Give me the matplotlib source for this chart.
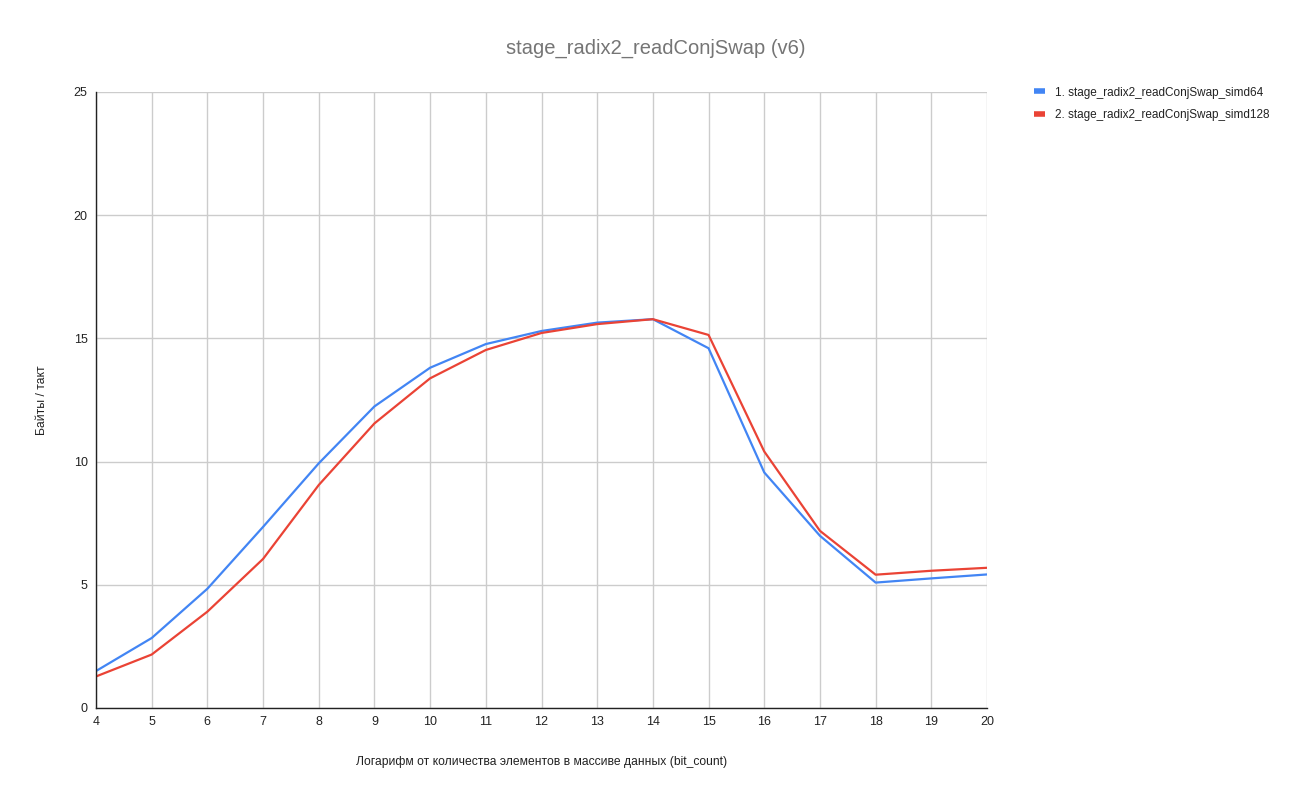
import matplotlib
matplotlib.use('agg')
import matplotlib.pyplot as plt
from matplotlib.lines import Line2D

plt.rcParams['font.family'] = ['Liberation Sans', 'DejaVu Sans']

bit_count = [4, 5, 6, 7, 8, 9, 10, 11, 12, 13, 14, 15, 16, 17, 18, 19, 20]
simd64 = [1.50, 2.84, 4.84, 7.35, 9.93, 12.24, 13.81, 14.77, 15.30, 15.64, 15.78,
          14.60, 9.56, 6.99, 5.09, 5.26, 5.42]
simd128 = [1.28, 2.17, 3.91, 6.05, 9.05, 11.55, 13.38, 14.53, 15.22, 15.58, 15.78,
           15.14, 10.41, 7.19, 5.41, 5.57, 5.69]
names = ['1. stage_radix2_readConjSwap_simd64', '2. stage_radix2_readConjSwap_simd128']
colors = ['#4285F4', '#EA4335']

fig = plt.figure(figsize=(13, 7.95), dpi=100)
ax = fig.add_axes([96 / 1300, 87 / 795, 891 / 1300, 616 / 795])

ax.plot(bit_count, simd64, color=colors[0], lw=1.6, solid_joinstyle='round')
ax.plot(bit_count, simd128, color=colors[1], lw=1.6, solid_joinstyle='round')

ax.set_xlim(4, 20)
ax.set_ylim(0, 25)
ax.set_xticks(bit_count)
ax.set_yticks([0, 5, 10, 15, 20, 25])
ax.grid(True, color='#cccccc', lw=1)
ax.set_axisbelow(True)
for s in ['top', 'right']:
    ax.spines[s].set_visible(False)
for s in ['bottom', 'left']:
    ax.spines[s].set_color('#222222')
    ax.spines[s].set_linewidth(1)
ax.tick_params(length=0, labelsize=9, colors='#222222', pad=6)

ax.set_xlabel('Логарифм от количества элементов в массиве данных (bit_count)',
              fontsize=8.7, color='#222222', labelpad=20)
ax.set_ylabel('Байты / такт', fontsize=8.7, color='#222222')
ax.yaxis.set_label_coords(-48 / 891, 0.5)

fig.text(656 / 1300, 1 - 48 / 795, 'stage_radix2_readConjSwap (v6)', fontsize=14.5,
         color='#757575', ha='center', va='center')

handles = [Line2D([], [], color=c, lw=4, solid_capstyle='butt') for c in colors]
fig.legend(handles, names, loc='upper left', bbox_to_anchor=(1023 / 1300, 1 - 76 / 795),
           frameon=False, fontsize=8.5, handlelength=1.0, handletextpad=0.8,
           labelspacing=0.85, labelcolor='#222222')

fig.savefig('out.png', dpi=100)
